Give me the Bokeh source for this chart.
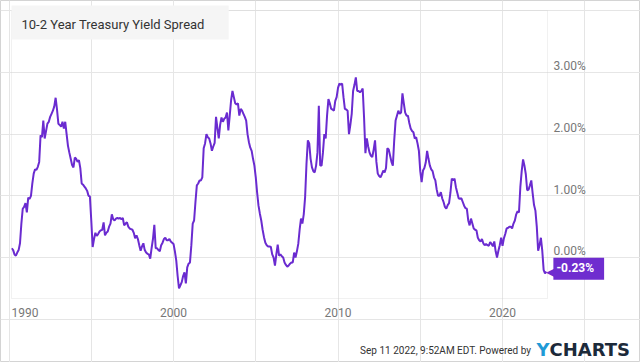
from bokeh.plotting import figure
from bokeh.models import (FixedTicker, Range1d, Label, LabelSet, Grid,
                          BoxAnnotation, ColumnDataSource)
from bokeh.core.properties import value
from bokeh.embed import file_html
from bokeh.resources import INLINE

# ---------------- data (monthly, % points) ----------------
start_year = 1990
start_month = 3  # first value is March 1990
spread_1990 = [0.15, 0.12, 0.05, 0.03, 0.08, 0.12, 0.23, 0.55, 0.79, 0.82]
spread_1991 = [0.88, 0.73, 0.97, 0.95, 1.00, 1.20, 1.36, 1.43, 1.42, 1.47, 1.55, 1.98]
spread_1992 = [1.95, 2.22, 1.93, 2.05, 2.17, 2.20, 2.28, 2.33, 2.38, 2.45, 2.59, 2.40]
spread_1993 = [2.17, 2.15, 2.12, 2.20, 2.09, 2.20, 2.00, 1.81, 1.70, 1.60, 1.50, 1.46]
spread_1994 = [1.62, 1.60, 1.55, 1.58, 1.45, 1.20, 1.18, 1.15, 1.12, 1.08, 1.00, 0.99]
spread_1995 = [0.60, 0.17, 0.30, 0.40, 0.35, 0.38, 0.42, 0.44, 0.45, 0.57, 0.36, 0.40]
spread_1996 = [0.42, 0.50, 0.55, 0.70, 0.62, 0.60, 0.63, 0.64, 0.63, 0.64, 0.62, 0.64]
spread_1997 = [0.52, 0.55, 0.57, 0.50, 0.47, 0.46, 0.45, 0.40, 0.31, 0.36, 0.30, 0.20]
spread_1998 = [0.11, 0.18, 0.23, 0.12, 0.08, 0.06, 0.05, -0.02, 0.15, 0.30, 0.53, 0.15]
spread_1999 = [0.15, 0.12, 0.10, 0.20, 0.24, 0.30, 0.32, 0.28, 0.28, 0.30, 0.26, 0.24]
spread_2000 = [0.22, 0.10, -0.05, -0.30, -0.50, -0.45, -0.40, -0.30, -0.24, -0.42, -0.16, -0.10]
spread_2001 = [-0.08, 0.20, 0.55, 0.60, 0.90, 1.17, 1.20, 1.25, 1.25, 1.30, 1.77, 1.85]
spread_2002 = [2.00, 1.95, 1.93, 1.85, 1.73, 1.80, 1.86, 2.28, 2.10, 1.93, 2.15, 2.27]
spread_2003 = [2.20, 2.25, 2.27, 2.35, 2.06, 2.30, 2.55, 2.70, 2.60, 2.50, 2.48, 2.50]
spread_2004 = [2.30, 2.41, 2.38, 2.33, 2.28, 2.22, 2.00, 1.87, 1.78, 1.73, 1.60, 1.49]
spread_2005 = [1.30, 1.05, 0.84, 0.71, 0.60, 0.45, 0.33, 0.24, 0.20, 0.18, 0.18, 0.17]
spread_2006 = [0.05, 0.00, -0.13, 0.05, 0.21, 0.03, 0.05, 0.02, 0.00, -0.08, -0.12, -0.15]
spread_2007 = [-0.13, -0.10, -0.08, -0.08, 0.08, 0.00, 0.10, 0.22, 0.45, 0.63, 0.55, 0.70]
spread_2008 = [0.98, 1.52, 1.90, 1.85, 1.60, 1.46, 1.40, 1.38, 1.49, 1.70, 2.46, 1.49]
spread_2009 = [1.49, 1.70, 2.00, 1.93, 2.30, 2.57, 2.50, 2.41, 2.40, 2.38, 2.54, 2.60]
spread_2010 = [2.75, 2.82, 2.80, 2.82, 2.60, 2.41, 2.40, 2.38, 2.00, 2.15, 2.33, 2.70]
spread_2011 = [2.80, 2.92, 2.70, 2.70, 2.68, 2.70, 2.74, 2.27, 1.69, 1.93, 1.80, 1.70]
spread_2012 = [1.65, 1.63, 1.75, 1.90, 1.55, 1.36, 1.32, 1.30, 1.35, 1.41, 1.38, 1.45]
spread_2013 = [1.77, 1.75, 1.65, 1.55, 1.49, 1.90, 2.22, 2.30, 2.38, 2.33, 2.35, 2.66]
spread_2014 = [2.50, 2.35, 2.30, 2.30, 2.18, 2.09, 2.05, 2.03, 1.93, 1.95, 1.85, 1.73]
spread_2015 = [1.40, 1.22, 1.41, 1.45, 1.54, 1.73, 1.60, 1.49, 1.43, 1.40, 1.30, 1.25]
spread_2016 = [1.10, 1.00, 1.00, 1.06, 0.96, 0.90, 0.82, 0.79, 0.85, 0.88, 1.05, 1.28]
spread_2017 = [1.25, 1.28, 1.14, 1.05, 0.96, 0.95, 0.96, 0.90, 0.84, 0.80, 0.79, 0.60]
spread_2018 = [0.52, 0.63, 0.55, 0.47, 0.45, 0.44, 0.32, 0.28, 0.26, 0.30, 0.23, 0.20]
spread_2019 = [0.22, 0.20, 0.19, 0.25, 0.22, 0.18, 0.26, 0.10, 0.00, 0.11, 0.20, 0.32]
spread_2020 = [0.19, 0.31, 0.38, 0.47, 0.48, 0.50, 0.50, 0.47, 0.55, 0.60, 0.70, 0.75]
spread_2021 = [0.73, 1.14, 1.40, 1.59, 1.49, 1.35, 1.09, 1.10, 1.17, 1.25, 1.04, 0.85]
spread_2022 = [0.76, 0.50, 0.11, 0.20, 0.32, 0.11, -0.20, -0.26, -0.23]

x_tick_years = [2000, 2010, 2020]
x_label_pos = [1990.97, 2000, 2010, 2020]
x_label_text = ["1990", "2000", "2010", "2020"]
y_ticks = [0, 1, 2, 3]
title_text = "10-2 Year Treasury Yield Spread"
footer_text = "Sep 11 2022, 9:52AM EDT.  Powered by"

values = (spread_1990 + spread_1991 + spread_1992 + spread_1993 + spread_1994 +
          spread_1995 + spread_1996 + spread_1997 + spread_1998 + spread_1999 +
          spread_2000 + spread_2001 + spread_2002 + spread_2003 + spread_2004 +
          spread_2005 + spread_2006 + spread_2007 + spread_2008 + spread_2009 +
          spread_2010 + spread_2011 + spread_2012 + spread_2013 + spread_2014 +
          spread_2015 + spread_2016 + spread_2017 + spread_2018 + spread_2019 +
          spread_2020 + spread_2021 + spread_2022)
dates = [start_year + (start_month - 1 + i) / 12.0 for i in range(len(values))]

# ---------------- layout geometry ----------------
W, H = 640, 362
# plot area: data extent and its pixel box on the canvas
PA_X = (1990.15, 2022.735)
PA_Y = (-0.665, 4.005)
PA_LEFT, PA_RIGHT, PA_TOP, PA_BOTTOM = 11, 547, 10, 298
xs = (PA_X[1] - PA_X[0]) / (PA_RIGHT - PA_LEFT)
ys = (PA_Y[1] - PA_Y[0]) / (PA_BOTTOM - PA_TOP)
x_range = Range1d(PA_X[0] - PA_LEFT * xs, PA_X[1] + (W - PA_RIGHT) * xs)
y_range = Range1d(PA_Y[0] - (H - PA_BOTTOM) * ys, PA_Y[1] + PA_TOP * ys)

PURPLE = "#6a2bd0"
TAG = "#6f2dcf"
FONT = "Roboto"
GRAY_TXT = "#777777"

p = figure(width=W, height=H, output_backend="svg", toolbar_location=None,
           x_range=x_range, y_range=y_range,
           x_axis_location=None, y_axis_location=None,
           min_border=0, min_border_left=0, min_border_right=0,
           min_border_top=0, min_border_bottom=0)
p.background_fill_color = "white"
p.border_fill_color = "white"
p.outline_line_color = "#d4d4d4"
p.outline_line_width = 1

# grids limited to the plot area
p.add_layout(Grid(dimension=0, ticker=FixedTicker(ticks=x_tick_years),
                  bounds=PA_Y, grid_line_color="#e6e6e6", grid_line_width=1))
p.add_layout(Grid(dimension=1, ticker=FixedTicker(ticks=y_ticks),
                  bounds=PA_X, grid_line_color="#e6e6e6", grid_line_width=1))

# plot-area frame
p.add_layout(BoxAnnotation(left=PA_X[0], right=PA_X[1], bottom=PA_Y[0],
                           top=PA_Y[1], fill_color=None, fill_alpha=0,
                           line_color="#d0d0d0", line_width=1))

# data line
p.line(dates, values, line_color=PURPLE, line_width=2)

# tick labels
xsrc = ColumnDataSource(dict(x=x_label_pos, y=[PA_Y[0]] * len(x_label_pos),
                             t=x_label_text))
p.add_layout(LabelSet(x="x", y="y", text="t", source=xsrc, y_offset=-14,
                      text_align="center", text_baseline="middle",
                      text_font=value(FONT), text_font_size=value("12px"),
                      text_color=GRAY_TXT))
ysrc = ColumnDataSource(dict(x=[PA_X[1]] * len(y_ticks), y=y_ticks,
                             t=["%.2f%%" % v for v in y_ticks]))
p.add_layout(LabelSet(x="x", y="y", text="t", source=ysrc, x_offset=6,
                      y_offset=6, text_align="left", text_baseline="middle",
                      text_font=value(FONT), text_font_size=value("12px"),
                      text_color=GRAY_TXT))

# title box
p.add_layout(Label(x=11, y=H - 22, x_units="screen", y_units="screen",
                   text=title_text, text_font=FONT, text_font_size="13px",
                   text_color="#333333", text_baseline="middle",
                   background_fill_color="#f5f5f5", padding=(10, 24, 11, 8)))

# last value tag
p.add_layout(Label(x=dates[-1], y=values[-1], x_offset=12, y_offset=0,
                   text="\u25c0", text_font="DejaVu Sans",
                   text_font_size="16px", text_color=TAG,
                   text_baseline="middle", text_align="right"))
p.add_layout(Label(x=dates[-1], y=values[-1], x_offset=7, y_offset=3,
                   text=f"{values[-1]:.2f}%", text_font=FONT,
                   text_font_size="12px", text_font_style="bold",
                   text_color="white", text_baseline="middle",
                   background_fill_color=TAG, padding=(3, 10, 3, 5)))

# footer
p.add_layout(Label(x=533, y=12, x_units="screen", y_units="screen",
                   text=footer_text, text_font=FONT, text_font_size="10px",
                   text_color="#333333", text_baseline="middle",
                   text_align="right"))
p.add_layout(Label(x=536, y=13, x_units="screen", y_units="screen", text="Y",
                   text_font="DejaVu Sans", text_font_size="18px",
                   text_font_style="bold", text_color="#1f9ad6",
                   text_baseline="middle", text_align="left"))
p.add_layout(Label(x=549, y=13, x_units="screen", y_units="screen",
                   text="CHARTS", text_font="DejaVu Sans",
                   text_font_size="18px", text_font_style="bold",
                   text_color="#1c2a3a", text_baseline="middle",
                   text_align="left"))

open("out.html", "w").write(file_html(p, INLINE))
